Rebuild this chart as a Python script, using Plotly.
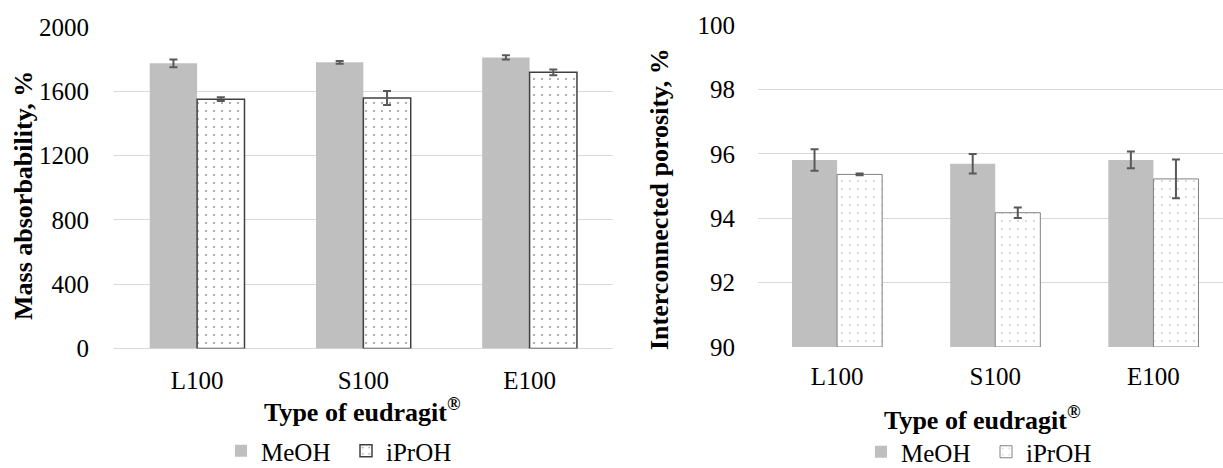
import plotly.graph_objects as go

categories = ["L100", "S100", "E100"]
series_names = ["MeOH", "iPrOH"]

abs_meoh = [1774, 1780, 1811]
abs_meoh_err = [24, 8, 13]
abs_iproh = [1551, 1558, 1718]
abs_iproh_err = [12, 44, 18]

por_meoh = [95.81, 95.69, 95.81]
por_meoh_err = [0.335, 0.30, 0.26]
por_iproh = [95.36, 94.17, 95.22]
por_iproh_err = [0.03, 0.165, 0.60]

left_ticks = [0, 400, 800, 1200, 1600, 2000]
right_ticks = [90, 92, 94, 96, 98, 100]

FONT = "Liberation Serif"
GRAY = "#bfbfbf"
ERR = "#595959"
GRID = "#d9d9d9"

fig = go.Figure()

def err(vals):
    return dict(type="data", array=vals, visible=True, color=ERR, thickness=2, width=4)

fig.add_trace(go.Bar(x=categories, y=abs_meoh, name=series_names[0], error_y=err(abs_meoh_err),
                     marker=dict(color=GRAY, line=dict(width=0)),
                     xaxis="x", yaxis="y", legend="legend"))
fig.add_trace(go.Bar(x=categories, y=abs_iproh, name=series_names[1], error_y=err(abs_iproh_err),
                     marker=dict(color="white", line=dict(color="#404040", width=1.5),
                                 pattern=dict(shape=".", fgcolor="#303030", bgcolor="white",
                                              size=8, solidity=0.05)),
                     xaxis="x", yaxis="y", legend="legend"))
fig.add_trace(go.Bar(x=categories, y=[v - 90 for v in por_meoh], base=90, name=series_names[0],
                     error_y=err(por_meoh_err),
                     marker=dict(color=GRAY, line=dict(width=0)),
                     xaxis="x2", yaxis="y2", legend="legend2"))
fig.add_trace(go.Bar(x=categories, y=[v - 90 for v in por_iproh], base=90, name=series_names[1],
                     error_y=err(por_iproh_err),
                     marker=dict(color="white", line=dict(color="#808080", width=1),
                                 pattern=dict(shape=".", fgcolor="#a0a0a0", bgcolor="white",
                                              size=8, solidity=0.05)),
                     xaxis="x2", yaxis="y2", legend="legend2"))

tickfont = dict(family=FONT, size=25, color="black")

def legend_cfg(xc, yc):
    return dict(orientation="h", x=xc, y=yc, xanchor="center", yanchor="middle",
                font=dict(family=FONT, size=25, color="black"),
                bgcolor="rgba(0,0,0,0)", traceorder="normal",
                entrywidth=80, entrywidthmode="pixels")

fig.update_layout(
    width=1223, height=468,
    margin=dict(l=0, r=0, t=0, b=0, autoexpand=False),
    paper_bgcolor="white", plot_bgcolor="white",
    barmode="group", bargap=0.43, bargroupgap=0,
    font=dict(family=FONT, size=25, color="black"),
    xaxis=dict(domain=[114 / 1223, 612.7 / 1223], range=[-0.5, 2.5], anchor="y", automargin=False,
               tickfont=tickfont, showgrid=False, zeroline=False, showline=False,
               ticks="", ticklabelstandoff=14),
    yaxis=dict(domain=[(468 - 348.5) / 468, (468 - 27) / 468], range=[0, 2000], anchor="x",
               automargin=False,
               tickvals=left_ticks, tickfont=tickfont, showgrid=True, gridcolor=GRID, gridwidth=1,
               zeroline=True, zerolinecolor=GRID, zerolinewidth=1, showline=False,
               ticks="", ticklabelstandoff=24),
    xaxis2=dict(domain=[758 / 1223, 1.0], range=[-0.5, 2.44], anchor="y2", automargin=False,
                tickfont=tickfont, showgrid=False, zeroline=False, showline=False,
                ticks="", ticklabelstandoff=12),
    yaxis2=dict(domain=[(468 - 347) / 468, (468 - 25) / 468], range=[90, 100], anchor="x2",
                automargin=False,
                tickvals=right_ticks, tickfont=tickfont, showgrid=True, gridcolor=GRID, gridwidth=1,
                zeroline=False, showline=False, ticks="", ticklabelstandoff=22),
    legend=legend_cfg(346 / 1223, 1 - 451 / 468),
    legend2=legend_cfg(986 / 1223, 1 - 452 / 468),
    showlegend=True,
)

title_font = dict(family=FONT, size=26, color="black")
annotations = [
    dict(text="<b>Mass absorbability, %</b>", x=23, y=196, textangle=-90),
    dict(text="<b>Interconnected porosity, %</b>", x=659, y=199, textangle=-90),
    dict(text="<b>Type of eudragit<sup>®</sup></b>", x=362, y=410, textangle=0),
    dict(text="<b>Type of eudragit<sup>®</sup></b>", x=982, y=418, textangle=0),
]
for a in annotations:
    fig.add_annotation(text=a["text"], x=a["x"] / 1223, y=1 - a["y"] / 468, xref="paper", yref="paper",
                       xanchor="center", yanchor="middle", showarrow=False, textangle=a["textangle"],
                       font=title_font)

fig.write_html("out.html")
